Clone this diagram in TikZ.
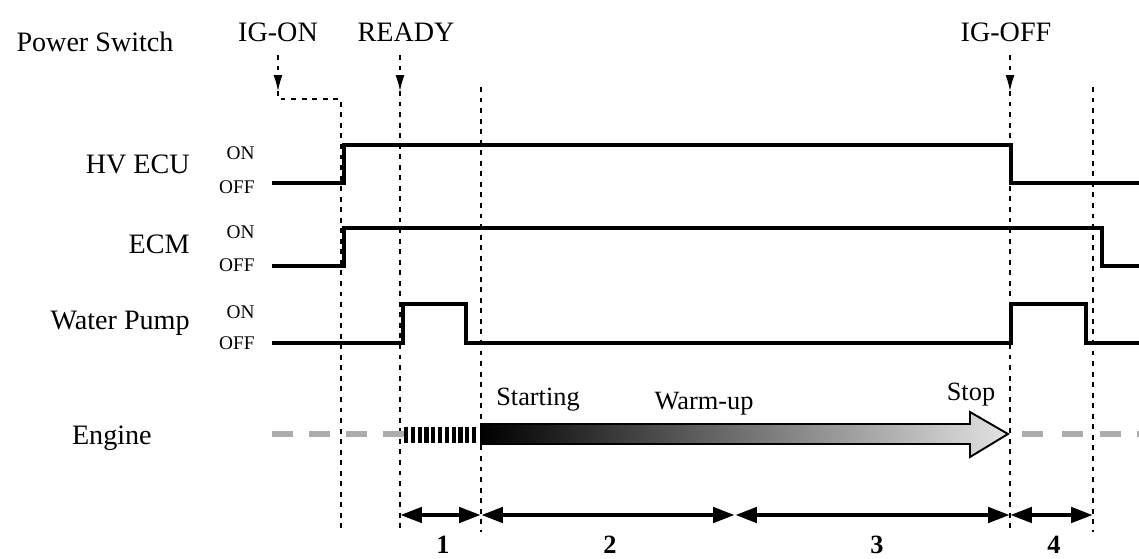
\documentclass[tikz,border=0pt]{standalone}
\usepackage{fontspec}
\setmainfont{Liberation Serif}
\usepackage{tikz}
\usetikzlibrary{positioning}
\usetikzlibrary{arrows.meta}

\begin{document}
\begin{tikzpicture}[x=0.02cm, y=-0.02cm]
    \tikzset{sig/.style = {line width=2.7pt, line join=miter}}
    \tikzset{guide/.style = {line width=0.6pt, dash pattern=on 2.8pt off 3.2pt}}
    \tikzset{evt/.style = {-{Latex[length=9pt,width=5pt]}}}
    \tikzset{span/.style = {{Triangle[length=12.5pt,width=8.5pt]}-{Triangle[length=12.5pt,width=8.5pt]}, line width=2.7pt}}
    \tikzset{big/.style = {font=\fontsize{16}{19}\selectfont, inner sep=0pt}}
    \tikzset{lvl/.style = {font=\fontsize{11}{13}\selectfont, inner sep=0pt, anchor=east}}
    \tikzset{phase/.style = {font=\fontsize{15}{18}\selectfont\bfseries, inner sep=0pt}}

    \useasboundingbox (0,0) rectangle (1139,558);

    % labels
    \node[big] (lblPower) at (95,42) {Power Switch};
    \node[big] (lblIgOn) at (278,32) {IG-ON};
    \node[big] (lblReady) at (406,32) {READY};
    \node[big] (lblIgOff) at (1006,32) {IG-OFF};
    \node[big, anchor=east] (lblHv) at (190,164) {HV ECU};
    \node[big, anchor=east] (lblEcm) at (190,244) {ECM};
    \node[big, anchor=east] (lblPump) at (190,323) {Water Pump};
    \node[big, anchor=east] (lblEngine) at (152,438) {Engine};

    \node[lvl] (hvOn) at (255,153) {ON};
    \node[lvl] (hvOff) at (255,187) {OFF};
    \node[lvl] (ecmOn) at (255,232) {ON};
    \node[lvl] (ecmOff) at (255,265) {OFF};
    \node[lvl] (pumpOn) at (255,312) {ON};
    \node[lvl] (pumpOff) at (255,343) {OFF};

    % time marks
    \coordinate (onTop) at (278,55);
    \coordinate (onHead) at (278,91);
    \coordinate (rdyTop) at (400,55);
    \coordinate (rdyHead) at (400,91);
    \coordinate (offTop) at (1010,55);
    \coordinate (offHead) at (1010,91);
    \coordinate (onB) at (341,532);
    \coordinate (rdyB) at (400,532);
    \coordinate (stB) at (481,532);
    \coordinate (offB) at (1010,532);
    \coordinate (endB) at (1093,532);

    \draw[guide, evt] (onTop) -- (onHead);
    \draw[guide] (onHead) -- (278,99) -- (341,99) -- (onB);
    \draw[guide, evt] (rdyTop) -- (rdyHead);
    \draw[guide] (rdyHead) -- (rdyB);
    \draw[guide] (481,87) -- (stB);
    \draw[guide, evt] (offTop) -- (offHead);
    \draw[guide] (offHead) -- (offB);
    \draw[guide] (1093,87) -- (endB);

    % signals
    \draw[sig] (272,183) -- (344,183) -- (344,145) -- (1011,145) -- (1011,183) -- (1139,183);
    \draw[sig] (272,266) -- (344,266) -- (344,228) -- (1102,228) -- (1102,266) -- (1139,266);
    \draw[sig] (272,343) -- (403,343) -- (403,304) -- (466,304) -- (466,343) -- (1011,343)
        -- (1011,304) -- (1086,304) -- (1086,343) -- (1139,343);

    % engine
    \foreach \x in {272,309,346,383,1022,1062,1100,1137}
        \fill[gray!65] (\x,431) rectangle ++(21,6);
    \foreach \i in {0,...,10}
        \fill (404+\i*6.8,427) rectangle ++(4.2,16);
    \shade[left color=black, right color=gray!22, draw=black, line width=1.1pt]
        (481,424) -- (970,424) -- (970,412) -- (1008,434) -- (970,457) -- (970,444) -- (481,444) -- cycle;
    \node[big, font=\fontsize{15}{18}\selectfont] (lblStart) at (538,400) {Starting};
    \node[big, font=\fontsize{15}{18}\selectfont] (lblWarm) at (704,404) {Warm-up};
    \node[big, font=\fontsize{15}{18}\selectfont] (lblStop) at (971,395) {Stop};

    % phases
    \coordinate (p1) at (400,515);
    \coordinate (p2) at (481,515);
    \coordinate (p3) at (735,515);
    \coordinate (p4) at (1010,515);
    \coordinate (p5) at (1093,515);
    \draw[span] (p1) -- (p2);
    \draw[span] (p2) -- (p3);
    \draw[span] (p3) -- (p4);
    \draw[span] (p4) -- (p5);
    \node[phase] (ph1) at (443,545) {1};
    \node[phase] (ph2) at (610,545) {2};
    \node[phase] (ph3) at (877,545) {3};
    \node[phase] (ph4) at (1054,545) {4};
\end{tikzpicture}
\end{document}
